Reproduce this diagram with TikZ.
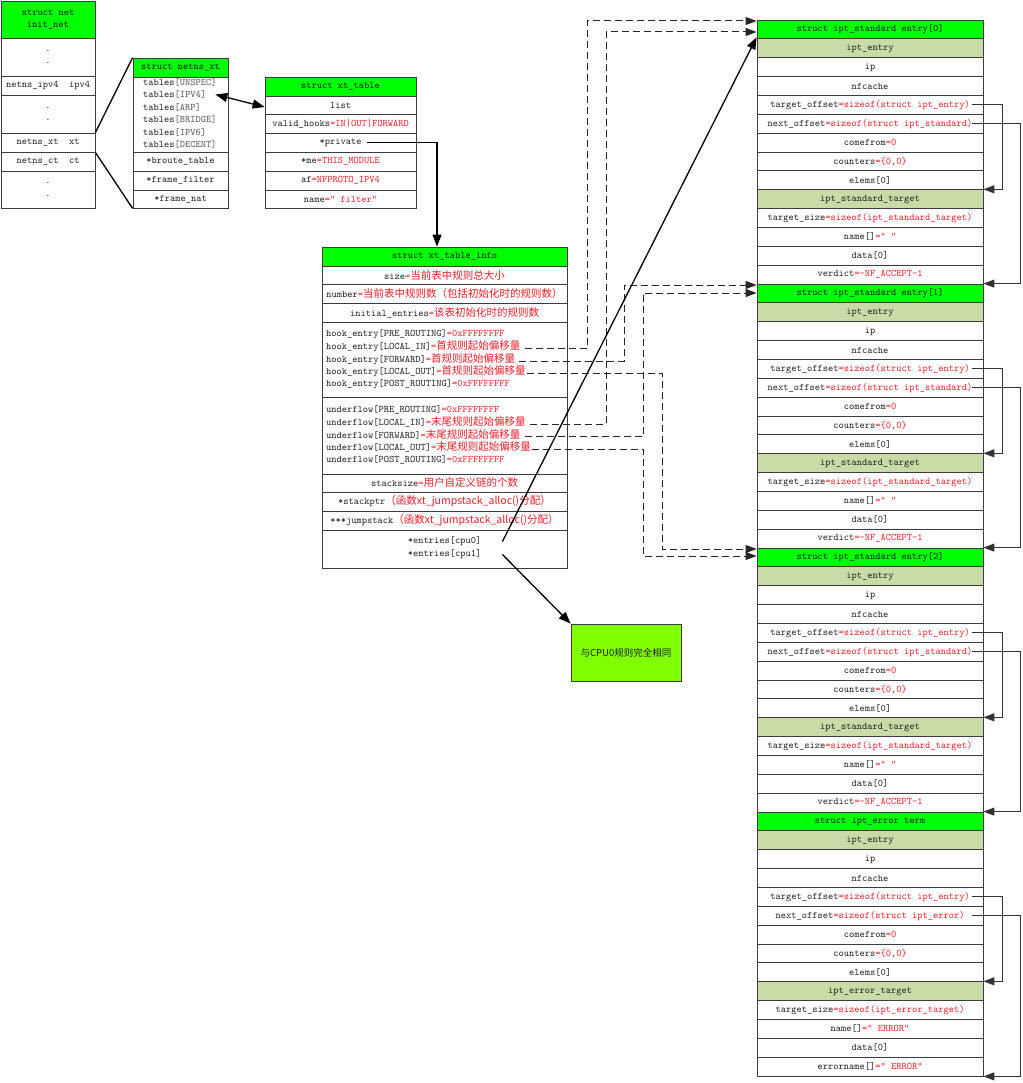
\documentclass[tikz,border=0pt]{standalone}
\usepackage{fontspec}
\newfontfamily\cjk{Noto Sans CJK SC}
\usetikzlibrary{arrows.meta}
\definecolor{hdr}{RGB}{0,255,0}
\definecolor{olv}{RGB}{202,219,168}
\definecolor{limeg}{RGB}{128,255,0}
\definecolor{rd}{RGB}{235,30,40}
\definecolor{bd}{RGB}{60,60,60}
\definecolor{tx}{RGB}{30,30,30}
\definecolor{tgc}{RGB}{85,85,85}
\newcommand\rd[1]{\textcolor{rd}{#1}}
\newcommand\tg[1]{\textcolor{tgc}{#1}}
\newcommand\zh[1]{{\cjk\fontsize{10.5}{13}\selectfont #1}}
\newcommand\bx[7]{\node[cell,fill=#6,minimum width={(#4-#2)*1pt},minimum height={(#5-#3)*1pt}] (#1) at ({(#2+#4)/2},{(#3+#5)/2}) {#7};}
\newcommand\rrow[4]{\node[cell,fill=#3,minimum width=226pt] (#1) at (870,{20+(#2+0.5)*18.857}) {#4};}
\newcommand\stdentry[3]{%
\rrow{#1h}{#2}{hdr}{struct ipt\_standard entry[#3]}%
\rrow{#1a}{#2+1}{olv}{ipt\_entry}%
\rrow{#1ip}{#2+2}{white}{ip}%
\rrow{#1nf}{#2+3}{white}{nfcache}%
\rrow{#1t}{#2+4}{white}{target\_offset\rd{=sizeof(struct ipt\_entry)}}%
\rrow{#1n}{#2+5}{white}{next\_offset\rd{=sizeof(struct ipt\_standard)}}%
\rrow{#1cf}{#2+6}{white}{comefrom\rd{=0}}%
\rrow{#1ct}{#2+7}{white}{counters\rd{=\{0,0\}}}%
\rrow{#1el}{#2+8}{white}{elems[0]}%
\rrow{#1s}{#2+9}{olv}{ipt\_standard\_target}%
\rrow{#1ts}{#2+10}{white}{target\_size\rd{=sizeof(ipt\_standard\_target)}}%
\rrow{#1nm}{#2+11}{white}{name[]\rd{=” ”}}%
\rrow{#1d}{#2+12}{white}{data[0]}%
\rrow{#1v}{#2+13}{white}{verdict\rd{=-NF\_ACCEPT-1}}%
}
\begin{document}
\begin{tikzpicture}[x=1pt,y=-1pt,
 font=\ttfamily\fontsize{10}{12.5}\selectfont,
 cell/.style={draw=bd,line width=0.8pt,inner sep=0pt,align=center,text=tx,minimum height=18.857pt},
 tl/.style={anchor=west,inner sep=1pt,text=tx},
 tc/.style={inner sep=1pt,text=tx},
 arr/.style={draw=black,line width=1.3pt,-{Triangle[length=12pt,width=9pt]}},
 dsh/.style={draw=black!85,line width=1pt,dash pattern=on 7pt off 4pt,-{Triangle[length=11pt,width=8pt]}},
 lp/.style={draw=black!80,line width=1pt,-{Triangle[length=11pt,width=8pt]}},
 dbl/.style={draw=black,line width=1.3pt,{Triangle[length=12pt,width=9pt]}-{Triangle[length=12pt,width=9pt]}},
 lk/.style={draw=black,line width=1.3pt}]
\fill[white] (0,0) rectangle (1022,1083);
\useasboundingbox (0,0) rectangle (1022,1083);
% init_net
\bx{inh}{1}{1}{95}{38}{hdr}{struct net\\init\_net}
\bx{ind1}{1}{38}{95}{76}{white}{.\\.}
\bx{inip}{1}{76}{95}{95}{white}{netns\_ipv4~~ipv4}
\bx{ind2}{1}{95}{95}{133}{white}{.\\.}
\bx{inxt}{1}{133}{95}{152}{white}{netns\_xt~~xt}
\bx{inct}{1}{152}{95}{171}{white}{netns\_ct~~ct}
\bx{ind3}{1}{171}{95}{208}{white}{.\\.}
% netns_xt
\bx{nxh}{133}{58}{228}{77}{hdr}{struct netns\_xt}
\bx{nxt}{133}{77}{228}{152}{white}{}
\bx{nxb}{133}{152}{228}{171}{white}{*broute\_table}
\bx{nxf}{133}{171}{228}{190}{white}{*frame\_filter}
\bx{nxn}{133}{190}{228}{208}{white}{*frame\_nat}
\node[tl] (t1) at (142,82) {tables\tg{[UNSPEC]}};
\node[tl] (t2) at (142,94.5) {tables\tg{[IPV4]}};
\node[tl] (t3) at (142,107) {tables\tg{[ARP]}};
\node[tl] (t4) at (142,119.5) {tables\tg{[BRIDGE]}};
\node[tl] (t5) at (142,132) {tables\tg{[IPV6]}};
\node[tl] (t6) at (142,144.5) {tables\tg{[DECENT]}};
% xt_table
\bx{xth}{265}{77}{416}{96}{hdr}{struct xt\_table}
\bx{xl}{265}{96}{416}{114}{white}{list}
\bx{xvh}{265}{114}{416}{133}{white}{valid\_hooks\rd{=IN|OUT|FORWARD}}
\bx{xpv}{265}{133}{416}{152}{white}{*private}
\bx{xme}{265}{152}{416}{171}{white}{*me\rd{=THIS\_MODULE}}
\bx{xaf}{265}{171}{416}{190}{white}{af\rd{=NFPROTO\_IPV4}}
\bx{xnm}{265}{190}{416}{208}{white}{name\rd{=” filter”}}
% xt_table_info
\bx{xih}{322}{247}{567}{266}{hdr}{struct xt\_table\_info}
\bx{xsz}{322}{266}{567}{284}{white}{size\rd{=\zh{当前表中规则总大小}}}
\bx{xnum}{322}{284}{567}{303}{white}{number\rd{=\zh{当前表中规则数（包括初始化时的规则数）}}}
\bx{xie}{322}{303}{567}{322}{white}{initial\_entries\rd{=\zh{该表初始化时的规则数}}}
\bx{xhk}{322}{322}{567}{397}{white}{}
\bx{xuf}{322}{397}{567}{474}{white}{}
\bx{xss}{322}{474}{567}{492}{white}{stacksize\rd{=\zh{用户自定义链的个数}}}
\bx{xsp}{322}{492}{567}{511}{white}{*stackptr\rd{\zh{（函数xt\_jumpstack\_alloc()分配）}}}
\bx{xjs}{322}{511}{567}{530}{white}{***jumpstack\rd{\zh{（函数xt\_jumpstack\_alloc()分配）}}}
\bx{xen}{322}{530}{567}{568}{white}{}
\node[tl] (h1) at (325,334) {hook\_entry[PRE\_ROUTING]\rd{=0xFFFFFFFF}};
\node[tl] (h2) at (325,346.5) {hook\_entry[LOCAL\_IN]\rd{=\zh{首规则起始偏移量}}};
\node[tl] (h3) at (325,359) {hook\_entry[FORWARD]\rd{=\zh{首规则起始偏移量}}};
\node[tl] (h4) at (325,371.5) {hook\_entry[LOCAL\_OUT]\rd{=\zh{首规则起始偏移量}}};
\node[tl] (h5) at (325,384) {hook\_entry[POST\_ROUTING]\rd{=0xFFFFFFFF}};
\node[tl] (u1) at (325,409.5) {underflow[PRE\_ROUTING]\rd{=0xFFFFFFFF}};
\node[tl] (u2) at (325,422) {underflow[LOCAL\_IN]\rd{=\zh{末尾规则起始偏移量}}};
\node[tl] (u3) at (325,434.5) {underflow[FORWARD]\rd{=\zh{末尾规则起始偏移量}}};
\node[tl] (u4) at (325,447) {underflow[LOCAL\_OUT]\rd{=\zh{末尾规则起始偏移量}}};
\node[tl] (u5) at (325,460) {underflow[POST\_ROUTING]\rd{=0xFFFFFFFF}};
\node[tc] (ec0) at (444.5,541.5) {*entries[cpu0]};
\node[tc] (ec1) at (444.5,554.5) {*entries[cpu1]};
% lime box
\node[draw=bd,line width=0.8pt,fill=limeg,minimum width=110pt,minimum height=57pt,inner sep=0pt,text=tx] (cp) at (626,652.5) {\cjk\fontsize{9.5}{11}\selectfont 与CPU0规则完全相同};
% right column
\stdentry{e0}{0}{0}
\stdentry{e1}{14}{1}
\stdentry{e2}{28}{2}
\rrow{eeh}{42}{hdr}{struct ipt\_error term}
\rrow{eea}{43}{olv}{ipt\_entry}
\rrow{eeip}{44}{white}{ip}
\rrow{eenf}{45}{white}{nfcache}
\rrow{eet}{46}{white}{target\_offset\rd{=sizeof(struct ipt\_entry)}}
\rrow{een}{47}{white}{next\_offset\rd{=sizeof(struct ipt\_error)}}
\rrow{eecf}{48}{white}{comefrom\rd{=0}}
\rrow{eect}{49}{white}{counters\rd{=\{0,0\}}}
\rrow{eeel}{50}{white}{elems[0]}
\rrow{ees}{51}{olv}{ipt\_error\_target}
\rrow{eets}{52}{white}{target\_size\rd{=sizeof(ipt\_error\_target)}}
\rrow{eenm}{53}{white}{name[]\rd{=” ERROR”}}
\rrow{eed}{54}{white}{data[0]}
\rrow{eev}{55}{white}{errorname[]\rd{=” ERROR”}}
% connectors left
\draw[lk] (inxt.north east) -- (nxh.north west);
\draw[lk] (inxt.south east) -- (nxn.south west);
\draw[dbl] ([xshift=8pt]t2.east) -- ([yshift=-2pt]xl.west);
\draw[arr] ([xshift=-49pt]xpv.east) -| ([xshift=-7.5pt]xih.north);
% loops right
\draw[lp] ([xshift=-11pt]e0t.east) -- ++(30,0) |- (e0s.north east);
\draw[lp] ([xshift=-11pt]e0n.east) -- ++(48,0) |- (e1h.north east);
\draw[lp] ([xshift=-11pt]e1t.east) -- ++(30,0) |- (e1s.north east);
\draw[lp] ([xshift=-11pt]e1n.east) -- ++(48,0) |- (e2h.north east);
\draw[lp] ([xshift=-11pt]e2t.east) -- ++(30,0) |- (e2s.north east);
\draw[lp] ([xshift=-11pt]e2n.east) -- ++(48,0) |- (eeh.north east);
\draw[lp] ([xshift=-11pt]eet.east) -- ++(30,0) |- (ees.north east);
\draw[lp] ([xshift=-11pt]een.east) -- ++(48,0) |- (eev.south east);
% dashed
\coordinate (k1) at (587,21);
\coordinate (k2) at (606,32);
\coordinate (k3) at (624,285);
\coordinate (k4) at (643,293);
\coordinate (k5) at (662,549);
\coordinate (k6) at (643,556);
\draw[dsh] ([yshift=-2pt,xshift=3pt]h2.east) -| (k1) -- (k1 -| e0h.west);
\draw[dsh] ([yshift=-2pt,xshift=3pt]u2.east) -| (k2) -- (k2 -| e0h.west);
\draw[dsh] ([yshift=-2pt,xshift=3pt]h3.east) -| (k3) -- (k3 -| e1h.west);
\draw[dsh] ([yshift=-2pt,xshift=3pt]u3.east) -| (k4) -- (k4 -| e1h.west);
\draw[dsh] ([yshift=-2pt]h4.east) -| (k5) -- (k5 -| e2h.west);
\draw[dsh] ([yshift=-2pt]u4.east) -| (k6) -- (k6 -| e2h.west);
% entries arrows
\draw[arr] ([xshift=20pt]ec0.east) -- ([yshift=2pt]e0h.south west);
\draw[arr] ([xshift=20pt]ec1.east) -- (cp.north west);
\end{tikzpicture}
\end{document}
